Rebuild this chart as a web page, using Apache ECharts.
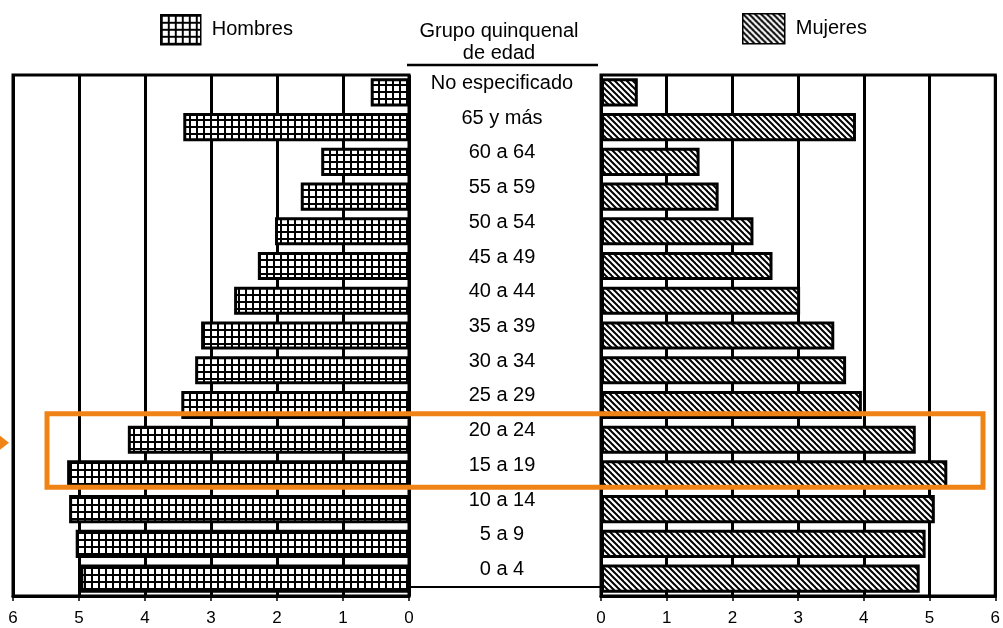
<!DOCTYPE html>
<html>
<head>
<meta charset="utf-8">
<script src="https://cdn.jsdelivr.net/npm/echarts@6/dist/echarts.min.js"></script>
<style>
html,body{margin:0;padding:0;background:#fff;}
#chart{width:1003px;height:628px;}
</style>
</head>
<body>
<div id="chart"></div>
<script>
// ---- data ----
var categories = ['0 a 4','5 a 9','10 a 14','15 a 19','20 a 24','25 a 29','30 a 34','35 a 39','40 a 44','45 a 49','50 a 54','55 a 59','60 a 64','65 y más','No especificado'];
var hombres = [4.98, 5.05, 5.15, 5.18, 4.26, 3.45, 3.24, 3.15, 2.65, 2.29, 2.03, 1.64, 1.33, 3.42, 0.58];
var mujeres = [4.85, 4.94, 5.08, 5.27, 4.79, 3.97, 3.73, 3.55, 3.03, 2.61, 2.32, 1.79, 1.50, 3.88, 0.56];
var axisMin = 0, axisMax = 6, axisStep = 1;
var seriesNames = ['Hombres', 'Mujeres'];
var centerTitle = 'Grupo quinquenal\nde edad';
var highlighted = ['15 a 19', '20 a 24'];

// ---- patterns ----
function gridPattern() {
  var c = document.createElement('canvas');
  c.width = 7; c.height = 7;
  var g = c.getContext('2d');
  g.fillStyle = '#fff'; g.fillRect(0, 0, 7, 7);
  g.fillStyle = '#000';
  g.fillRect(0, 0, 7, 2);
  g.fillRect(0, 0, 2, 7);
  return c;
}
function diagPattern() {
  var s = 6;
  var c = document.createElement('canvas');
  c.width = s; c.height = s;
  var g = c.getContext('2d');
  g.fillStyle = '#fff'; g.fillRect(0, 0, s, s);
  g.strokeStyle = '#000'; g.lineWidth = 2;
  [-s, 0, s].forEach(function (o) {
    g.beginPath(); g.moveTo(o - 1, -1); g.lineTo(o + s + 1, s + 1); g.stroke();
  });
  return c;
}
var patH = { image: gridPattern(), repeat: 'repeat' };
var patM = { image: diagPattern(), repeat: 'repeat' };

var FONT = "'Liberation Sans', Arial, sans-serif";
var chart = echarts.init(document.getElementById('chart'), null, { renderer: 'canvas' });

function valueAxis(gi, inverse) {
  return {
    type: 'value', gridIndex: gi, min: axisMin, max: axisMax, interval: axisStep, inverse: inverse,
    axisLine: { show: true, lineStyle: { color: '#000', width: 3 } },
    axisTick: { show: true, length: 5, lineStyle: { color: '#000', width: 1.5 } },
    axisLabel: { color: '#000', fontSize: 17, fontFamily: FONT, margin: 14 },
    splitLine: { show: true, lineStyle: { color: '#000', width: 3 } }
  };
}

var option = {
  backgroundColor: '#fff',
  animation: false,
  legend: [
    { data: [seriesNames[0]], left: 160, top: 14, padding: 0, itemWidth: 40, itemHeight: 30, icon: 'rect',
      itemStyle: { borderColor: '#000', borderWidth: 1.5 },
      textStyle: { color: '#000', fontSize: 20, fontFamily: FONT, padding: [0, 0, 0, 6] } },
    { data: [seriesNames[1]], left: 742, top: 13, padding: 0, itemWidth: 42, itemHeight: 30, icon: 'rect',
      itemStyle: { borderColor: '#000', borderWidth: 1.5 },
      textStyle: { color: '#000', fontSize: 20, fontFamily: FONT, padding: [0, 0, 0, 6] } }
  ],
  grid: [
    { left: 13, width: 396, top: 75, height: 521, show: true, borderColor: '#000', borderWidth: 3 },
    { left: 601, width: 396, top: 75, height: 521, show: true, borderColor: '#000', borderWidth: 3 }
  ],
  xAxis: [valueAxis(0, true), valueAxis(1, false)],
  yAxis: [
    { type: 'category', gridIndex: 0, data: categories, position: 'right',
      axisLine: { show: false }, axisTick: { show: false }, splitLine: { show: false },
      axisLabel: { color: '#000', fontSize: 20, fontFamily: FONT, align: 'center', margin: 93,
        verticalAlign: 'bottom', lineHeight: 18 } },
    { type: 'category', gridIndex: 1, data: categories,
      axisLine: { show: false }, axisTick: { show: false }, splitLine: { show: false },
      axisLabel: { show: false } }
  ],
  series: [
    { name: seriesNames[0], type: 'bar', xAxisIndex: 0, yAxisIndex: 0, data: hombres, barWidth: '81%',
      itemStyle: { color: patH, borderColor: '#000', borderWidth: 3 } },
    { name: seriesNames[1], type: 'bar', xAxisIndex: 1, yAxisIndex: 1, data: mujeres, barWidth: '81%',
      itemStyle: { color: patM, borderColor: '#000', borderWidth: 3 } }
  ]
};
chart.setOption(option);

// highlight box around the selected age groups (computed from the category scale)
var ys = highlighted.map(function (c) { return chart.convertToPixel({ yAxisIndex: 0 }, c); });
var band = 521 / categories.length;
var yTop = Math.min.apply(null, ys) - band / 2 - 8.5;
var yBot = Math.max.apply(null, ys) + band / 2 - 4.5;
var yArrow = yTop + 29;

chart.setOption({
  graphic: [
    { type: 'text', z: 10, style: { text: centerTitle, x: 499, y: 20, align: 'center', verticalAlign: 'top',
        font: '20px ' + FONT, lineHeight: 22, fill: '#000' } },
    { type: 'line', z: 10, shape: { x1: 407, y1: 65, x2: 598, y2: 65 }, style: { stroke: '#000', lineWidth: 2.5 } },
    { type: 'line', z: 10, shape: { x1: 409, y1: 587, x2: 601, y2: 587 }, style: { stroke: '#000', lineWidth: 2 } },
    { type: 'rect', z: 20, shape: { x: 47, y: yTop, width: 936, height: yBot - yTop },
      style: { fill: 'none', stroke: '#EF8316', lineWidth: 5 } },
    { type: 'polygon', z: 20, shape: { points: [[0, yArrow - 7], [9, yArrow], [0, yArrow + 7]] },
      style: { fill: '#EF8316' } }
  ]
});
</script>
</body>
</html>
